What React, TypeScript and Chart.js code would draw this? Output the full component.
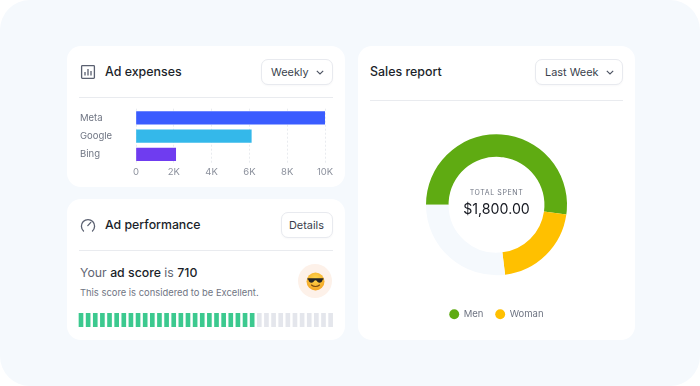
import React, { useEffect, useRef } from "react";
import { Chart, registerables } from "chart.js";

Chart.register(...registerables);

const FONT = "Inter, 'Noto Sans', sans-serif";

const expenseLabels = ["Meta", "Google", "Bing"];
const expenseValues = [10000, 6100, 2100];
const expenseColors = ["#3A5CFF", "#34B8EA", "#6F3CF0"];

const salesLabels = ["Men", "Woman", "Remaining"];
const salesValues = [940, 375, 485];
const salesColors = ["#5FAB12", "#FFC000", "#F5F9FD"];

const scoreSegments = [
  1, 1, 1, 1, 1, 1, 1, 1, 1, 1, 1, 1, 1, 1, 1, 1, 1, 1,
  1, 1, 1, 1, 1, 1, 1, 1, 1, 1, 1, 1, 1, 1, 1, 1, 1, 1,
];
const scoreFilled = 25;

function useChart(make: (c: HTMLCanvasElement) => Chart) {
  const ref = useRef<HTMLCanvasElement | null>(null);
  useEffect(() => {
    const chart = make(ref.current as HTMLCanvasElement);
    return () => chart.destroy();
  }, []);
  return ref;
}

const abs = (l: number, t: number, w?: number, h?: number): React.CSSProperties => ({
  position: "absolute",
  left: l,
  top: t,
  width: w,
  height: h,
});

function Text({ x, y, size, color, weight, children, center, spacing }: any) {
  return (
    <div
      style={{
        position: "absolute",
        left: center ? x - 100 : x,
        width: center ? 200 : undefined,
        textAlign: center ? "center" : "left",
        top: y - 10,
        height: 20,
        lineHeight: "20px",
        fontSize: size,
        color,
        fontWeight: weight ?? 400,
        letterSpacing: spacing,
        whiteSpace: "nowrap",
      }}
    >
      {children}
    </div>
  );
}

function Card({ x, y, w, h }: any) {
  return <div style={{ ...abs(x, y, w, h), background: "#fff", borderRadius: 14 }} />;
}

function Button({ x, y, w, label, chevron, tx }: any) {
  return (
    <>
      <div
        style={{
          ...abs(x, y, w, 26),
          boxSizing: "border-box",
          background: "#fff",
          border: "1px solid #E8EAEF",
          borderRadius: 7,
          boxShadow: "0 1px 2px rgba(20,30,60,0.03)",
        }}
      />
      <Text x={tx} y={y + 13} size={10.9} color="#3A3F4D">
        {label}
      </Text>
      {chevron !== undefined && (
        <svg style={abs(chevron - 4, y + 10.5, 8, 5)} viewBox="0 0 8 5">
          <path d="M0.8 0.8 L4 4 L7.2 0.8" fill="none" stroke="#4B5160" strokeWidth="1.1" />
        </svg>
      )}
    </>
  );
}

const Divider = ({ x, y, w }: any) => <div style={{ ...abs(x, y, w, 1), background: "#E9EBEF" }} />;

export default function App() {
  const barRef = useChart(
    (c) =>
      new Chart(c, {
        type: "bar",
        data: {
          labels: expenseLabels,
          datasets: [
            {
              data: expenseValues,
              backgroundColor: expenseColors,
              barThickness: 12.5,
            },
          ],
        },
        options: {
          indexAxis: "y",
          responsive: false,
          animation: false,
          layout: { padding: { top: 6.5, right: 15, bottom: 0, left: 0 } },
          plugins: { legend: { display: false }, tooltip: { enabled: false } },
          scales: {
            x: {
              min: 0,
              max: 10000,
              afterFit: (s: any) => {
                s.height = 21.5;
              },
              ticks: {
                stepSize: 2000,
                color: "#8B909C",
                font: { family: FONT, size: 9.5 },
                padding: 3,
                maxRotation: 0,
                callback: (v: any) => (v === 0 ? "0" : `${Number(v) / 1000}K`),
              },
              grid: { color: "#E9EBEF", drawTicks: false, tickLength: 0 },
              border: { display: false, dash: [2, 2] },
            },
            y: {
              afterFit: (s: any) => {
                s.width = 56;
              },
              ticks: {
                crossAlign: "far",
                color: "#6F7583",
                font: { family: FONT, size: 9.5 },
              },
              grid: { display: false },
              border: { display: false },
            },
          },
        },
      } as any)
  );

  const scoreRef = useChart(
    (c) =>
      new Chart(c, {
        type: "bar",
        data: {
          labels: scoreSegments.map((_, i) => String(i + 1)),
          datasets: [
            {
              data: scoreSegments,
              backgroundColor: scoreSegments.map((_, i) => (i < scoreFilled ? "#3CC98F" : "#E4E6EC")),
              barThickness: 4,
            },
          ],
        },
        options: {
          responsive: false,
          animation: false,
          layout: { padding: { left: 0.43, right: 2.8, top: 0, bottom: 0 } },
          plugins: { legend: { display: false }, tooltip: { enabled: false } },
          scales: {
            x: { display: false },
            y: { display: false, min: 0, max: 1 },
          },
        },
      } as any)
  );

  const donutRef = useChart(
    (c) =>
      new Chart(c, {
        type: "doughnut",
        data: {
          labels: salesLabels,
          datasets: [{ data: salesValues, backgroundColor: salesColors, borderWidth: 0 }],
        },
        options: {
          responsive: false,
          animation: false,
          rotation: -90,
          cutout: "68%",
          radius: 70.5,
          plugins: {
            tooltip: { enabled: false },
            legend: {
              position: "bottom",
              labels: {
                usePointStyle: true,
                pointStyle: "circle",
                boxWidth: 10,
                boxHeight: 7,
                padding: 12,
                color: "#6F7583",
                font: { family: FONT, size: 9.5 },
                filter: (item: any) => item.index < 2,
              },
            },
          },
        },
      } as any)
  );

  return (
    <div style={{ ...abs(0, 0, 700, 386), background: "#fff", fontFamily: FONT, overflow: "hidden" }}>
      <style>{"html,body{margin:0;background:#fff}"}</style>
      <div style={{ ...abs(0, 0, 700, 386), background: "#F5F9FD", borderRadius: 30 }} />

      <Card x={67} y={46} w={278} h={141} />
      <Card x={67} y={199} w={278} h={141} />
      <Card x={358} y={46} w={277} h={294} />

      <svg style={abs(80, 64, 16, 16)} viewBox="0 0 16 16">
        <rect x="1.6" y="1.6" width="12.8" height="12.8" rx="0.8" fill="none" stroke="#5A6070" strokeWidth="1.3" />
        <path d="M5 11.5V8M8 11.5V5M11 11.5V7" stroke="#5A6070" strokeWidth="1.3" fill="none" />
      </svg>
      <Text x={105} y={72} size={12.4} weight={500} color="#1B1F2A">
        Ad expenses
      </Text>
      <Button x={261} y={59} w={72} label="Weekly" tx={271} chevron={320} />
      <Divider x={79} y={97} w={254} />
      <canvas ref={barRef} width={260} height={85} style={{ ...abs(80, 100), display: "block" }} />

      <svg style={abs(80, 217, 16, 16)} viewBox="0 0 16 16">
        <path d="M3.5 14 A6.6 6.6 0 1 1 12.5 14" fill="none" stroke="#5A6070" strokeWidth="1.3" strokeLinecap="round" />
        <path d="M7.8 8.6 L10.8 5.4" fill="none" stroke="#5A6070" strokeWidth="1.3" strokeLinecap="round" />
      </svg>
      <Text x={105} y={225} size={12.3} weight={500} color="#1B1F2A">
        Ad performance
      </Text>
      <Button x={281} y={212} w={52} label="Details" tx={289} />
      <Divider x={79} y={250} w={254} />
      <Text x={80} y={273} size={12.3} color="#5F6573">
        Your <span style={{ color: "#1B1F2A", fontWeight: 500 }}>ad score</span> is{" "}
        <span style={{ color: "#1B1F2A", fontWeight: 500 }}>710</span>
      </Text>
      <Text x={80} y={293} size={9.4} color="#6F7583">
        This score is considered to be Excellent.
      </Text>
      <div style={{ ...abs(298, 264, 34, 34), background: "#FDF1E9", borderRadius: "50%" }} />
      <svg style={abs(305.5, 271.5, 19, 19)} viewBox="0 0 19 19">
        <defs>
          <radialGradient id="face" cx="50%" cy="35%" r="70%">
            <stop offset="0%" stopColor="#FFD84D" />
            <stop offset="100%" stopColor="#F2A020" />
          </radialGradient>
        </defs>
        <circle cx="9.5" cy="9.5" r="9" fill="url(#face)" />
        <path d="M1.5 6.3 H17.5 V7.5 L16.6 7.8 C16.2 11 13.2 11.4 11.6 10 C10.8 9.2 10.6 8.3 9.5 8.3 C8.4 8.3 8.2 9.2 7.4 10 C5.8 11.4 2.8 11 2.4 7.8 L1.5 7.5 Z" fill="#262626" />
        <path d="M5.5 13 C7.5 15 11.5 15 13.5 13" fill="none" stroke="#7A4A10" strokeWidth="1.1" strokeLinecap="round" />
      </svg>
      <canvas ref={scoreRef} width={260} height={14} style={{ ...abs(77, 313), display: "block" }} />

      <Text x={370} y={72} size={12.4} weight={500} color="#1B1F2A">
        Sales report
      </Text>
      <Button x={535} y={59} w={88} label="Last Week" tx={545} chevron={610} />
      <Divider x={370} y={100} w={253} />
      <canvas ref={donutRef} width={277} height={217} style={{ ...abs(358, 112), display: "block" }} />
      <Text x={496.5} y={193} size={7} color="#6F7583" spacing={0.6} center>
        TOTAL SPENT
      </Text>
      <Text x={496.5} y={209} size={14.2} color="#14171F" center>
        $1,800.00
      </Text>
    </div>
  );
}
